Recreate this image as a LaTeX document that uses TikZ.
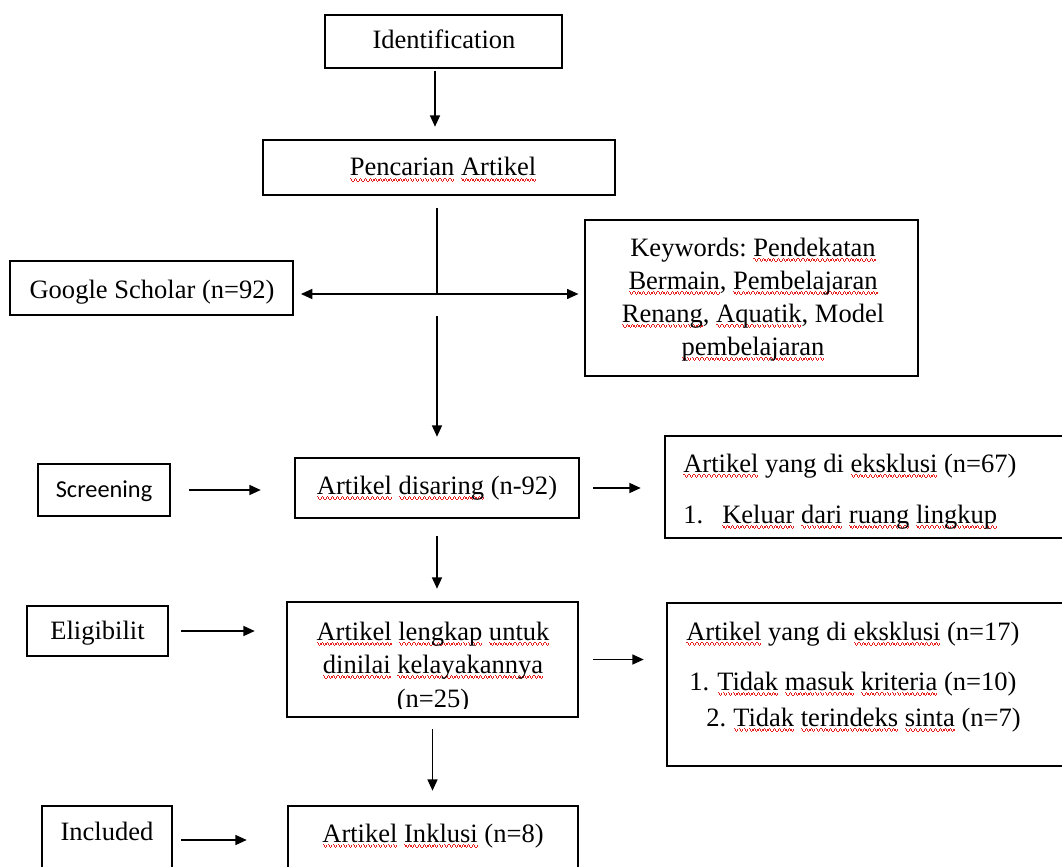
\documentclass[tikz,border=0pt]{standalone}
\usepackage{fontspec}
\setmainfont{Liberation Serif}
\newfontfamily\calibrifont{Carlito}
\usetikzlibrary{arrows.meta}
\frenchspacing
\definecolor{squig}{RGB}{230,30,30}
\newbox\sqbox
\newcommand\wvseg{\hbox{{\color{squig}\rule[-2.6pt]{0.9pt}{0.9pt}\rule[-3.5pt]{0.9pt}{0.9pt}\rule[-4.4pt]{0.9pt}{0.9pt}\rule[-3.5pt]{0.9pt}{0.9pt}}}}
\newcommand\sq[1]{\setbox\sqbox\hbox{#1}\rlap{\hbox to\wd\sqbox{\xleaders\wvseg\hfil}}\box\sqbox}
\begin{document}
\begin{tikzpicture}[x=0.75pt,y=-0.75pt,
  box/.style={draw,line width=1.9pt,inner sep=0pt},
  txt/.style={inner sep=0pt,font=\fontsize{19.9}{24}\selectfont},
  tip/.tip={Triangle[length=8.5pt,width=7.5pt]},
  arr/.style={line width=1pt,-tip},
  link/.style={line width=1pt}]
\useasboundingbox (0,0) rectangle (1062,866);
\clip (0,0) rectangle (1062,866);
% ---------- boxes ----------
\node[box,minimum width=177.75pt,minimum height=39.75pt] (ident) at (443.5,41.5) {};
\node[box,minimum width=264pt,minimum height=41.25pt] (penc) at (439,167.5) {};
\node[box,minimum width=212.25pt,minimum height=40.5pt] (google) at (151.5,288) {};
\node[box,minimum width=249.75pt,minimum height=117pt] (kw) at (751.5,298) {};
\node[box,minimum width=99pt,minimum height=39pt] (screen) at (104,490) {};
\node[box,minimum width=213pt,minimum height=45pt] (dis) at (437,488) {};
\node[box,minimum width=307.5pt,minimum height=76.5pt] (ex1) at (870,487) {};
\node[box,minimum width=105.75pt,minimum height=37.5pt] (elig) at (97.5,631) {};
\node[box,minimum width=218.25pt,minimum height=86.25pt] (len) at (432.5,659.5) {};
\node[box,minimum width=306pt,minimum height=122.25pt] (ex2) at (871,684.5) {};
\node[box,minimum width=97.5pt,minimum height=63pt] (incl) at (107,848) {};
\node[box,minimum width=217.5pt,minimum height=63pt] (ink) at (433,848) {};
% ---------- texts ----------
\node[txt,anchor=base] (identT) at (444,49) {Identification};
\node[txt,anchor=base] (pencT) at (443,176) {\sq{Pencarian} \sq{Artikel}};
\node[txt,anchor=base] (googleT) at (152,298) {Google Scholar (n=92)};
\node[txt,anchor=base] (kw1) at (753,256) {Keywords: \sq{Pendekatan}};
\node[txt,anchor=base] (kw2) at (753,289) {\sq{Bermain}, \sq{Pembelajaran}};
\node[txt,anchor=base] (kw3) at (753,322) {\sq{Renang}, \sq{Aquatik}, Model};
\node[txt,anchor=base] (kw4) at (753,355) {\sq{pembelajaran}};
\node[txt,anchor=base,font=\calibrifont\fontsize{18.24}{22}\selectfont] (screenT) at (104,497) {Screening};
\node[txt,anchor=base] (disT) at (437,494) {\sq{Artikel} \sq{disaring} (n-92)};
\node[txt,anchor=base west] (ex1a) at (683,472) {\sq{Artikel} yang di \sq{eksklusi} (n=67)};
\node[txt,anchor=base west] (ex1n) at (683,523) {1.};
\node[txt,anchor=base west] (ex1b) at (722,523) {\sq{Keluar} \sq{dari} \sq{ruang} \sq{lingkup}};
\node[txt,anchor=base] (eligT) at (97.5,639) {Eligibilit};
\begin{scope}
\clip (287,602) rectangle (578,708);
\node[txt,anchor=base] (len1) at (433,640) {\sq{Artikel} \sq{lengkap} \sq{untuk}};
\node[txt,anchor=base] (len2) at (433,673) {\sq{dinilai} \sq{kelayakannya}};
\node[txt,anchor=base] (len3) at (433,707) {(n=25)};
\end{scope}
\node[txt,anchor=base west] (ex2a) at (686,640) {\sq{Artikel} yang di \sq{eksklusi} (n=17)};
\node[txt,anchor=base west] (ex2n1) at (689,690) {1.};
\node[txt,anchor=base west] (ex2b) at (717,690) {\sq{Tidak} \sq{masuk} \sq{kriteria} (n=10)};
\node[txt,anchor=base west] (ex2n2) at (706,726) {2.};
\node[txt,anchor=base west] (ex2c) at (733,726) {\sq{Tidak} \sq{terindeks} \sq{sinta} (n=7)};
\node[txt,anchor=base] (inclT) at (107,840) {Included};
\node[txt,anchor=base] (inkT) at (433,842) {\sq{Artikel} \sq{Inklusi} (n=8)};
% ---------- connectors ----------
\coordinate (cA) at (435,0);
\coordinate (j) at (437,294);
\draw[arr,shorten <=1.5pt,shorten >=9pt] (ident.south -| cA) -- (penc.north -| cA);
\draw[link,shorten <=9pt] (penc.south -| j) -- (j);
\draw[line width=1pt,tip-tip,shorten <=5pt,shorten >=4pt] (google.east |- j) -- (kw.west |- j);
\draw[arr,shorten <=16.5pt,shorten >=15pt] (j) -- (dis.north -| j);
\draw[arr,shorten <=13.5pt,shorten >=24.75pt] (screen.east) -- (screen.east -| dis.west);
\draw[arr,shorten <=9.75pt,shorten >=17.25pt] (dis.east) -- (dis.east -| ex1.west);
\draw[arr,shorten <=12.75pt,shorten >=9pt] (dis.south) -- (dis.south |- len.north);
\draw[arr,shorten <=9pt,shorten >=23.25pt] (elig.east) -- (elig.east -| len.west);
\draw[arr,shorten <=10.5pt,shorten >=16.5pt] (len.east) -- (len.east -| ex2.west);
\draw[arr,shorten <=8.25pt,shorten >=10.5pt] (len.south) -- (len.south |- ink.north);
\draw[arr,shorten <=6pt,shorten >=30pt] ([yshift=6pt]incl.east) -- ([yshift=6pt]incl.east -| ink.west);
\end{tikzpicture}
\end{document}
